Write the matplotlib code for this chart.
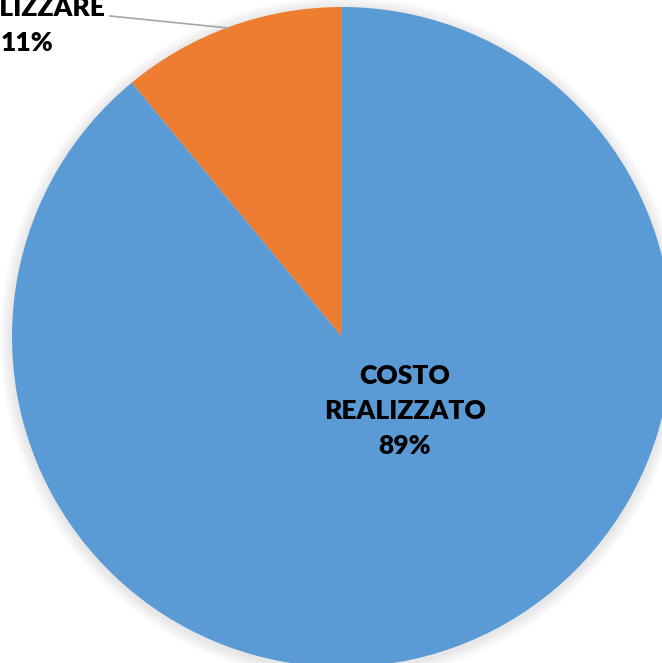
import matplotlib.pyplot as plt

labels = ['COSTO DA\nREALIZZARE', 'COSTO\nREALIZZATO']
shares = [11, 89]
colors = ['#ED7D31', '#5B9BD5']

W, H = 662, 663
cx, cy, r = 342, H - 337, 330

plt.rcParams['font.family'] = ['Lato', 'DejaVu Sans']

fig = plt.figure(figsize=(W / 100, H / 100), dpi=100)
ax = fig.add_axes([0, 0, 1, 1])

# soft shadow around the pie
for k in range(8):
    ax.add_patch(plt.Circle((cx, cy - 2), r + 2 + k * 1.5, color='black',
                            alpha=0.012, lw=0, zorder=0))

wedges, _ = ax.pie(shares, colors=colors, startangle=90, counterclock=True,
                   center=(cx, cy), radius=r,
                   wedgeprops={'linewidth': 0, 'zorder': 2})

ax.set_xlim(0, W)
ax.set_ylim(0, H)
ax.set_aspect('equal')
ax.axis('off')

# inside label
ax.text(405, H - 411, f'{labels[1]}\n{shares[1]}%', ha='center', va='center',
        fontsize=19, fontweight='heavy', color='black', linespacing=1.55, zorder=5)

# outside label with leader line
ax.text(27, H - 8, f'{labels[0]}\n{shares[0]}%', ha='center', va='center',
        fontsize=19, fontweight='heavy', color='black', linespacing=1.55, zorder=5)
ax.plot([110, 228], [H - 16, H - 28], color='#A6A6A6', lw=1.2, zorder=5)

fig.savefig('out.png', dpi=100)
